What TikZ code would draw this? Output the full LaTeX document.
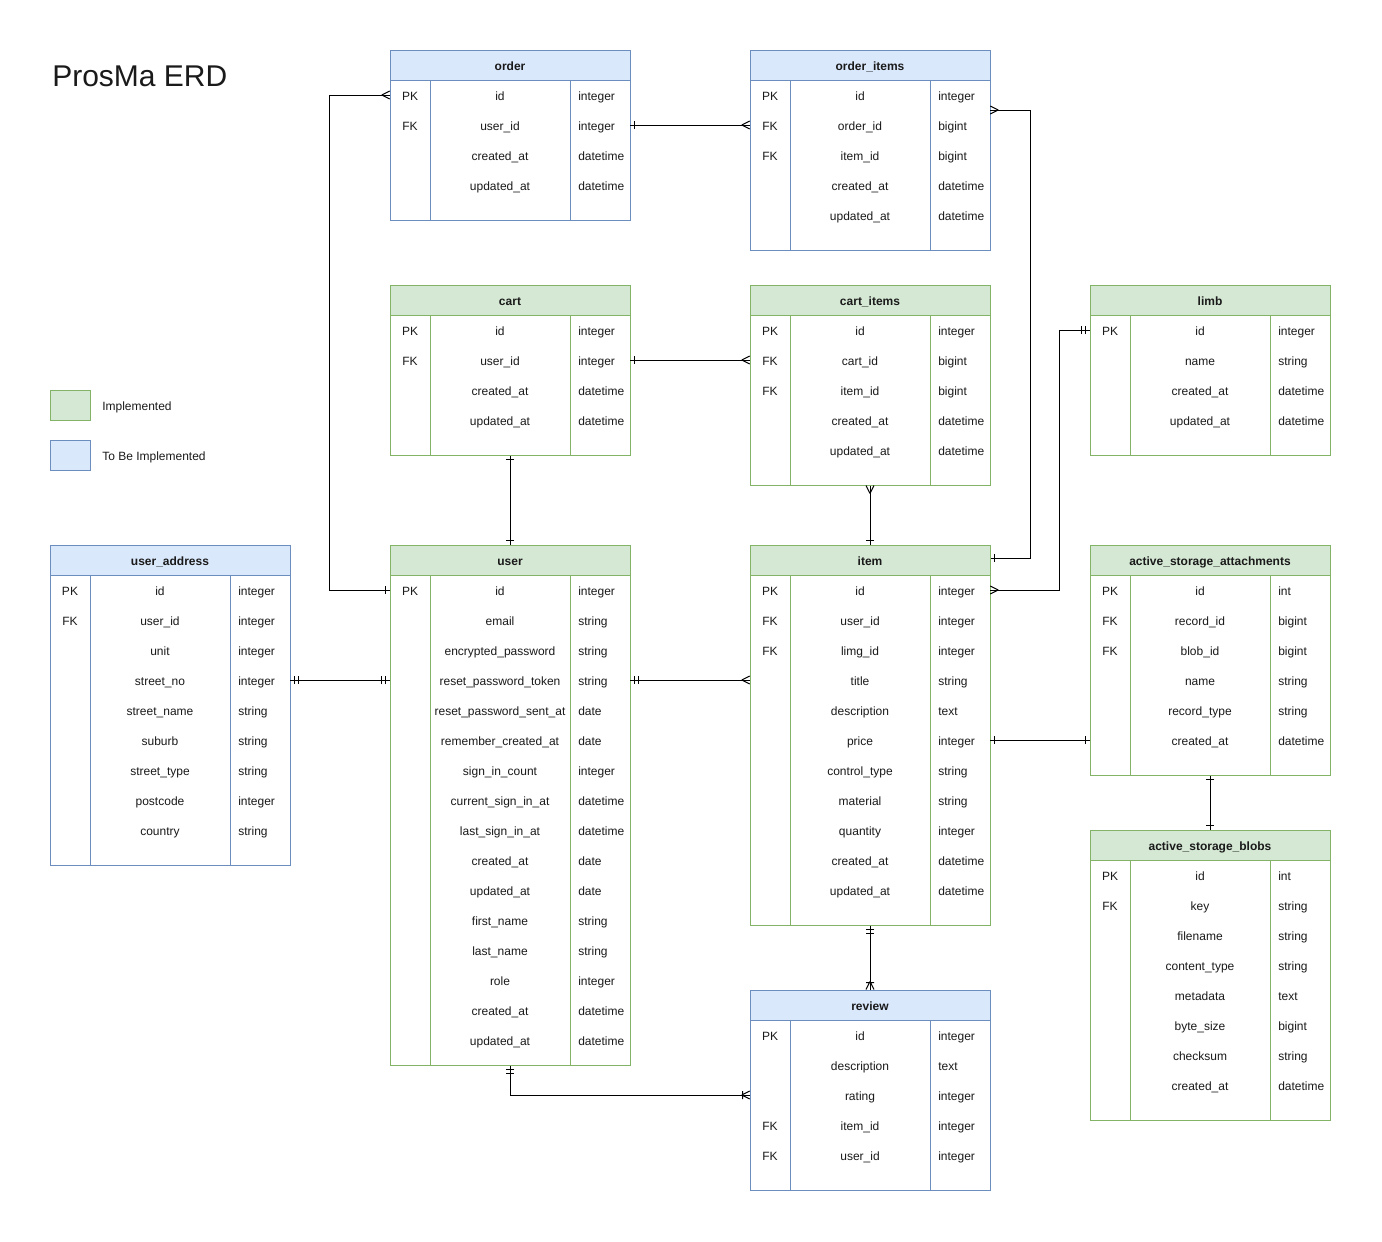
\documentclass[tikz,border=0pt]{standalone}
\usepackage{fontspec}
\setmainfont{Liberation Sans}
\usetikzlibrary{calc}
\definecolor{gfill}{HTML}{D5E8D4}
\definecolor{gline}{HTML}{82B366}
\definecolor{bfill}{HTML}{DAE8FC}
\definecolor{bline}{HTML}{6C8EBF}
\definecolor{txt}{HTML}{1A1A1A}
\tikzset{
  tbl/.style={draw, fill=white, minimum width=180pt, inner sep=0pt, line width=0.75pt},
  hdr/.style={draw, minimum width=180pt, minimum height=22.5pt, inner sep=0pt, line width=0.75pt,
    font=\fontsize{9}{11}\selectfont\bfseries, text=txt, text height=10pt, text depth=2pt},
  rowbox/.style={minimum width=180pt, minimum height=22.5pt, inner sep=0pt},
  celltxt/.style={inner sep=0pt, font=\fontsize{9}{11}\selectfont, text=txt, text height=10pt, text depth=2pt},
  link/.style={line width=0.75pt, draw=black},
  legbox/.style={minimum width=30pt, minimum height=22.5pt, inner sep=0pt, line width=0.75pt},
  ermany/.pic={\draw[link] (8,0) -- (0,4) (8,0) -- (0,-4);},
  erone/.pic={\draw[link] (4,-4) -- (4,4);},
  ermand/.pic={\draw[link] (4,-4) -- (4,4) (8,-4) -- (8,4);},
  eronemany/.pic={\draw[link] (8,0) -- (0,4) (8,0) -- (0,-4) (7,-4) -- (7,4);},
}
% #1 name, #2 x, #3 y, #4 title, #5 colour prefix, #6 height (px), #7 rows
\newcommand\ertable[7]{%
  \node[tbl, draw=#5line, minimum height=#6*0.75pt] (#1) at (#2+120,#3+#6/2) {};
  \node[hdr, fill=#5fill, draw=#5line] (#1-h) at (#2+120,#3+15) {#4};
  \draw[#5line, line width=0.75pt] (#2+40,#3+30) -- (#2+40,#3+#6) (#2+180,#3+30) -- (#2+180,#3+#6);
  \foreach \ekey/\ename/\etype [count=\i] in {#7} {
    \node[rowbox] (#1-\i) at (#2+120,#3+15+30*\i) {};
    \node[celltxt] (#1-\i-k) at (#2+20,#3+15+30*\i) {\ekey};
    \node[celltxt] (#1-\i-n) at (#2+110,#3+15+30*\i) {\ename};
    \node[celltxt, anchor=west] (#1-\i-t) at (#2+188,#3+15+30*\i) {\etype};
  }%
}
\begin{document}
\begin{tikzpicture}[x=0.75pt, y=-0.75pt]
\useasboundingbox (0,0) rectangle (1382,1242);

\node[anchor=base west, inner sep=0pt, font=\fontsize{22.5}{26}\selectfont, text=txt] (title) at (52,86) {ProsMa ERD};

\node[legbox, draw=gline, fill=gfill] (legG) at (70,405) {};
\node[celltxt, anchor=west] (legGt) at (102,405) {Implemented};
\node[legbox, draw=bline, fill=bfill] (legB) at (70,455) {};
\node[celltxt, anchor=west] (legBt) at (102,455) {To Be Implemented};

\ertable{order}{390}{50}{order}{b}{170}{PK/id/integer, FK/user\_id/integer, /created\_at/datetime, /updated\_at/datetime}
\ertable{orderitems}{750}{50}{order\_items}{b}{200}{PK/id/integer, FK/order\_id/bigint, FK/item\_id/bigint, /created\_at/datetime, /updated\_at/datetime}
\ertable{cart}{390}{285}{cart}{g}{170}{PK/id/integer, FK/user\_id/integer, /created\_at/datetime, /updated\_at/datetime}
\ertable{cartitems}{750}{285}{cart\_items}{g}{200}{PK/id/integer, FK/cart\_id/bigint, FK/item\_id/bigint, /created\_at/datetime, /updated\_at/datetime}
\ertable{limb}{1090}{285}{limb}{g}{170}{PK/id/integer, /name/string, /created\_at/datetime, /updated\_at/datetime}
\ertable{useraddr}{50}{545}{user\_address}{b}{320}{PK/id/integer, FK/user\_id/integer, /unit/integer, /street\_no/integer, /street\_name/string, /suburb/string, /street\_type/string, /postcode/integer, /country/string}
\ertable{user}{390}{545}{user}{g}{520}{PK/id/integer, /email/string, /encrypted\_password/string, /reset\_password\_token/string, /reset\_password\_sent\_at/date, /remember\_created\_at/date, /sign\_in\_count/integer, /current\_sign\_in\_at/datetime, /last\_sign\_in\_at/datetime, /created\_at/date, /updated\_at/date, /first\_name/string, /last\_name/string, /role/integer, /created\_at/datetime, /updated\_at/datetime}
\ertable{item}{750}{545}{item}{g}{380}{PK/id/integer, FK/user\_id/integer, FK/limg\_id/integer, /title/string, /description/text, /price/integer, /control\_type/string, /material/string, /quantity/integer, /created\_at/datetime, /updated\_at/datetime}
\ertable{asa}{1090}{545}{active\_storage\_attachments}{g}{230}{PK/id/int, FK/record\_id/bigint, FK/blob\_id/bigint, /name/string, /record\_type/string, /created\_at/datetime}
\ertable{asb}{1090}{830}{active\_storage\_blobs}{g}{290}{PK/id/int, FK/key/string, /filename/string, /content\_type/string, /metadata/text, /byte\_size/bigint, /checksum/string, /created\_at/datetime}
\ertable{review}{750}{990}{review}{b}{200}{PK/id/integer, /description/text, /rating/integer, FK/item\_id/integer, FK/user\_id/integer}

% order -- user
\draw[link] (order-1.west) -- ++(-60,0) |- (user-1.west);
\pic[rotate=180] at (order-1.west) {ermany};
\pic[rotate=180] at (user-1.west) {erone};
% order -- order_items
\draw[link] (order-2.east) -- (orderitems-2.west);
\pic at (order-2.east) {erone};
\pic[rotate=180] at (orderitems-2.west) {ermany};
% order_items -- item
\coordinate (oiR) at ($(orderitems-1.east)+(0,15)$);
\coordinate (itR) at ($(item-h.east)+(0,-2)$);
\draw[link] (oiR) -- ++(40,0) |- (itR);
\pic at (oiR) {ermany};
\pic at (itR) {erone};
% cart -- user
\draw[link] (cart.south) -- (user.north);
\pic[rotate=-90] at (cart.south) {erone};
\pic[rotate=90] at (user.north) {erone};
% cart -- cart_items
\draw[link] (cart-2.east) -- (cartitems-2.west);
\pic at (cart-2.east) {erone};
\pic[rotate=180] at (cartitems-2.west) {ermany};
% cart_items -- item
\draw[link] (cartitems.south) -- (item.north);
\pic[rotate=-90] at (cartitems.south) {ermany};
\pic[rotate=90] at (item.north) {erone};
% limb -- item
\draw[link] (limb-1.west) -- ++(-30,0) |- (item-1.east);
\pic[rotate=180] at (limb-1.west) {ermand};
\pic at (item-1.east) {ermany};
% user_address -- user
\draw[link] (useraddr-4.east) -- (user-4.west);
\pic at (useraddr-4.east) {ermand};
\pic[rotate=180] at (user-4.west) {ermand};
% user -- item
\draw[link] (user-4.east) -- (item-4.west);
\pic at (user-4.east) {ermand};
\pic[rotate=180] at (item-4.west) {ermany};
% item -- attachments
\draw[link] (item-6.east) -- (asa-6.west);
\pic at (item-6.east) {erone};
\pic[rotate=180] at (asa-6.west) {erone};
% attachments -- blobs
\draw[link] (asa.south) -- (asb.north);
\pic[rotate=-90] at (asa.south) {erone};
\pic[rotate=90] at (asb.north) {erone};
% item -- review
\draw[link] (item.south) -- (review.north);
\pic[rotate=-90] at (item.south) {ermand};
\pic[rotate=90] at (review.north) {eronemany};
% user -- review
\draw[link] (user.south) |- (review-3.west);
\pic[rotate=-90] at (user.south) {ermand};
\pic[rotate=180] at (review-3.west) {eronemany};
\end{tikzpicture}
\end{document}
